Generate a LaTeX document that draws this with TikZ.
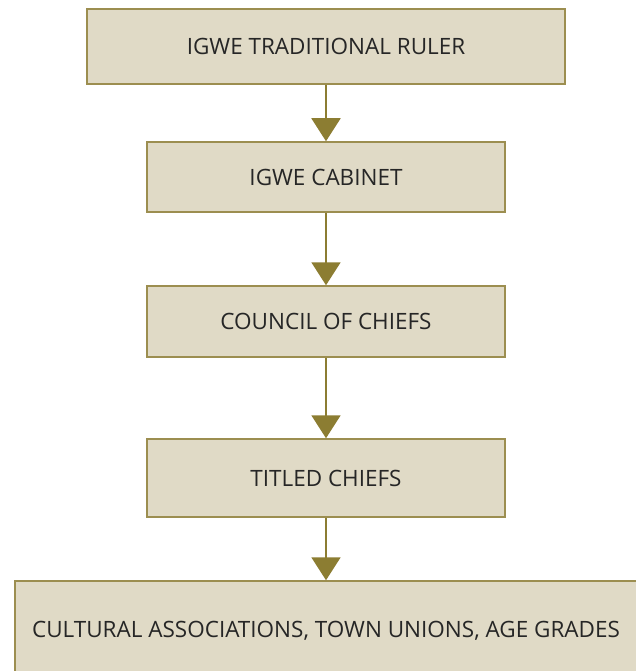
\documentclass[tikz,border=0pt]{standalone}
\usepackage{fontspec}
\setmainfont{Open Sans}
\usetikzlibrary{arrows.meta}
\definecolor{boxfill}{HTML}{E0DAC6}
\definecolor{boxline}{HTML}{9C8E50}
\definecolor{arrowcol}{HTML}{8C7D32}

\begin{document}
\begin{tikzpicture}[x=1pt, y=-1pt,
    every node/.style={font=\fontsize{22.5}{27}\selectfont, text=black!85},
    level/.style={draw=boxline, fill=boxfill, line width=1.5pt, inner sep=0pt},
    link/.style={draw=arrowcol, line width=2pt, -{Triangle[width=29pt,length=23pt]}}]
  \useasboundingbox (0,0) rectangle (636,671);

  % levels of the hierarchy
  \node[level, minimum width=478pt, minimum height=75pt] (ruler)   at (326,46.5)  {IGWE TRADITIONAL RULER};
  \node[level, minimum width=358pt, minimum height=70pt] (cabinet) at (326,177)   {IGWE CABINET};
  \node[level, minimum width=358pt, minimum height=71pt] (council) at (326,321.5) {COUNCIL OF CHIEFS};
  \node[level, minimum width=358pt, minimum height=78pt] (titled)  at (326,478)   {TITLED CHIEFS};
  \node[level, minimum width=622pt, minimum height=100pt] (groups) at (326,631)   {CULTURAL ASSOCIATIONS, TOWN UNIONS, AGE GRADES};

  % arrows down
  \draw[link] (ruler)   -- (cabinet);
  \draw[link] (cabinet) -- (council);
  \draw[link] (council) -- (titled);
  \draw[link] (titled)  -- (groups);
\end{tikzpicture}
\end{document}
